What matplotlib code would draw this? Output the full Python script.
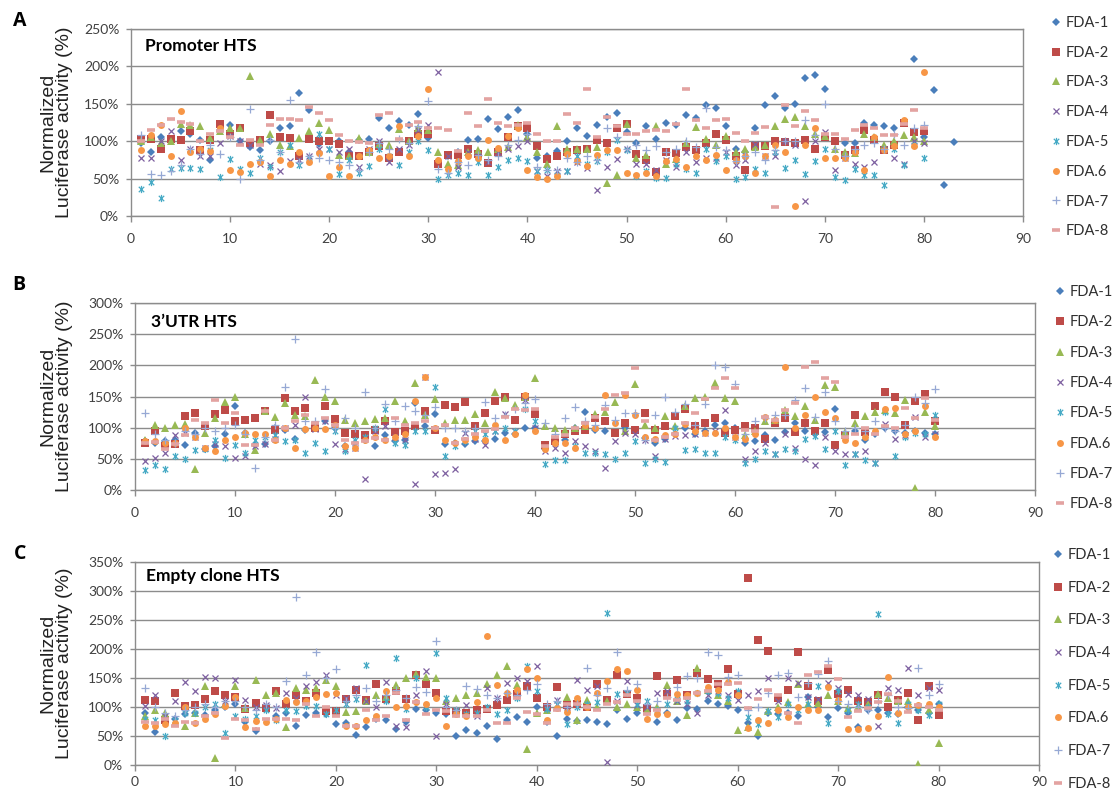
import matplotlib
matplotlib.use("Agg")
import matplotlib.pyplot as plt
from matplotlib.path import Path
from matplotlib.ticker import FuncFormatter, MultipleLocator

# ---------------- data (values in %) ----------------
series_names = ["FDA-1", "FDA-2", "FDA-3", "FDA-4", "FDA-5", "FDA.6", "FDA-7", "FDA-8"]

# Panel A: Promoter HTS
a_fda1 = [97,85,105,103,113,110,101,75,115,121,100,92,88,100,118,120,165,142,96,100,100,86,101,103,131,118,127,121,137,104,
          73,80,85,101,103,130,116,132,142,110,78,80,87,100,117,107,122,133,138,112,98,120,103,124,122,135,131,148,145,120,
          90,85,118,148,160,145,150,185,188,170,100,98,97,124,121,120,117,125,210,105,168,42,99]
a_fda2 = [103,103,90,103,102,113,88,101,123,110,118,98,101,135,105,104,80,103,100,100,96,80,80,86,93,77,86,100,110,110,
          70,81,82,90,83,71,85,105,120,118,93,76,80,85,88,89,102,98,118,123,83,75,59,85,84,92,88,97,109,102,
          80,62,94,93,100,99,98,101,90,105,100,81,88,115,102,88,95,124,112,113]
a_fda3 = [100,105,98,100,123,122,120,104,114,118,117,187,102,110,95,94,104,113,125,115,82,80,104,86,96,95,116,100,118,115,
          86,70,68,85,88,85,90,92,121,105,85,70,120,90,90,90,92,44,55,123,78,82,120,70,76,98,119,103,95,107,
          85,90,92,95,120,130,133,120,110,107,90,85,84,110,105,95,100,108,105,100]
a_fda4 = [78,78,100,113,75,90,80,80,98,107,100,95,70,68,60,73,75,80,90,89,85,90,65,89,100,72,90,95,115,122,
          193,80,65,85,80,72,85,90,93,100,60,53,60,60,72,64,35,66,76,90,70,70,62,75,66,85,72,78,77,86,
          68,75,96,80,80,100,95,20,100,112,62,77,69,65,72,90,77,70,100,97]
a_fda5 = [36,45,24,63,64,64,63,88,52,76,63,57,78,65,86,95,68,78,110,90,56,75,58,67,90,80,68,85,100,88,
          49,55,58,55,72,55,65,75,78,73,60,62,55,60,80,70,74,85,102,88,53,60,51,51,70,63,57,90,73,80,
          50,52,63,58,86,64,75,56,74,90,52,48,63,55,55,42,90,68,95,78]
a_fda6 = [88,108,122,80,140,85,90,87,118,62,59,70,72,53,75,69,86,72,84,53,65,53,80,88,78,80,120,80,107,170,
          75,63,73,80,78,101,91,107,118,62,52,50,53,83,73,67,82,88,88,58,55,57,53,73,76,65,80,75,82,62,
          75,80,57,80,95,85,14,95,118,78,78,78,85,62,105,88,94,128,94,193]
a_fda7 = [108,56,55,60,68,90,83,95,83,105,49,143,75,102,86,155,72,80,77,75,72,68,62,85,98,90,103,98,120,154,
          63,58,72,68,82,75,80,95,102,110,65,62,62,78,72,80,75,118,105,90,95,88,93,85,90,100,92,145,92,88,
          73,80,85,75,88,100,100,128,108,150,90,80,90,95,98,90,110,95,118,122]
a_fda8 = [100,115,122,130,126,123,100,110,113,106,95,102,95,121,130,130,128,146,138,128,108,100,99,98,135,138,103,122,126,118,
          118,115,87,138,120,157,125,120,122,125,110,100,100,136,125,170,105,132,120,110,110,113,115,113,123,170,128,117,128,130,
          111,100,111,119,12,148,120,140,128,110,110,103,115,122,117,108,108,123,142,117]

# Panel B: 3'UTR HTS
b_fda1 = [78,75,78,80,72,92,65,70,90,135,92,72,74,100,97,82,96,100,110,100,70,75,80,70,88,78,80,140,103,122,
          74,75,73,78,78,82,92,90,100,100,65,75,80,100,125,96,95,92,100,95,83,75,82,90,100,90,95,105,108,100,
          75,78,88,80,93,108,95,90,93,130,85,95,80,90,100,95,92,95,92,90]
b_fda2 = [75,95,70,73,118,124,103,122,128,110,112,116,126,96,148,127,132,100,134,114,92,90,89,97,110,93,95,103,127,97,
          137,133,141,102,124,142,149,112,150,122,72,78,90,95,97,115,110,92,107,96,123,97,102,118,130,102,107,115,92,97,
          103,100,82,108,116,93,107,94,108,72,88,120,93,135,157,150,104,142,154,110]
b_fda3 = [80,105,99,105,106,33,92,116,141,149,90,64,126,117,140,120,118,176,149,142,112,107,110,114,115,142,110,171,120,146,
          107,112,112,122,108,157,148,137,150,179,102,100,97,100,102,122,125,141,95,170,104,100,118,102,134,148,150,172,148,142,
          88,95,110,113,128,118,135,113,169,165,93,107,118,125,128,123,145,3,125,103]
b_fda4 = [47,52,60,89,92,85,68,73,70,52,55,70,74,82,100,105,150,98,110,74,65,68,17,95,102,85,80,9,182,25,
          27,33,92,82,72,95,122,95,144,100,62,67,60,78,70,62,35,78,92,90,80,55,82,87,88,90,92,95,128,85,
          50,63,75,58,90,68,50,40,85,62,58,58,62,43,106,82,88,117,85,90]
b_fda5 = [32,40,33,54,50,64,65,80,52,72,60,80,85,88,78,80,60,76,63,95,62,80,85,100,130,76,72,95,95,165,
          54,70,78,95,90,95,100,95,130,110,42,48,48,70,60,60,58,50,60,78,44,50,45,100,64,66,60,60,85,80,
          43,50,62,58,66,62,82,87,65,95,40,58,48,43,125,55,85,92,90,120]
b_fda6 = [78,78,75,75,100,85,67,62,80,85,92,90,90,80,100,67,98,100,98,105,70,68,80,85,80,85,90,143,181,100,
          80,75,80,85,80,104,80,90,152,95,65,75,75,68,105,100,152,108,152,121,85,82,88,90,106,95,91,92,100,85,
          82,90,117,112,197,100,120,149,125,116,80,75,85,95,130,131,90,95,135,85]
b_fda7 = [124,90,80,75,95,90,100,95,100,105,90,35,85,105,165,242,110,110,162,100,115,100,157,100,138,110,135,127,120,133,
          100,100,95,100,141,116,120,130,140,146,108,90,115,133,110,105,137,112,124,123,80,120,150,125,138,105,138,200,197,170,
          90,110,115,120,120,145,163,117,158,110,95,100,95,110,100,95,105,150,140,162]
b_fda8 = [75,77,65,73,88,112,108,144,108,124,72,72,126,80,100,110,120,107,115,105,80,75,78,83,80,115,105,108,110,100,
          105,76,82,90,95,98,117,130,128,130,70,85,88,100,107,117,130,152,155,195,110,80,85,90,108,123,146,163,180,163,
          96,95,117,112,128,140,198,205,180,173,85,90,100,90,103,100,132,115,148,112]

# Panel C: Empty clone HTS
c_fda1 = [90,57,75,80,88,90,87,95,100,105,75,58,98,85,90,68,87,90,88,70,73,52,65,80,78,62,75,97,95,90,
          88,50,60,56,67,45,78,82,75,100,75,50,80,76,77,75,70,95,80,90,92,75,90,77,98,97,110,105,102,95,
          72,50,90,88,90,85,118,100,82,98,90,65,95,95,90,88,100,95,90,105]
c_fda2 = [112,111,78,124,102,104,113,128,121,118,96,107,98,128,105,120,110,125,93,93,113,130,112,140,114,128,113,155,140,124,
          93,91,90,95,97,103,112,122,136,115,100,135,103,106,100,140,112,155,123,115,98,154,123,147,121,158,148,140,165,122,
          323,216,197,116,130,195,137,110,163,123,130,110,108,120,100,112,124,77,137,86]
c_fda3 = [85,95,90,75,67,90,137,12,105,137,98,147,121,125,66,132,130,133,146,137,91,93,110,120,117,138,150,157,152,150,
          110,115,120,125,140,155,170,138,28,90,95,100,118,78,112,100,110,100,105,100,95,100,138,110,87,167,130,120,110,60,
          65,57,93,100,109,140,105,107,120,110,98,100,105,122,115,110,110,2,95,38]
c_fda4 = [101,121,85,110,143,128,152,150,110,147,112,100,104,98,124,115,136,143,155,120,115,133,110,100,143,67,65,120,162,50,
          105,92,104,85,133,115,142,150,145,171,98,112,100,146,129,137,6,110,145,103,100,125,127,110,105,90,120,128,120,112,
          120,128,150,110,150,142,118,113,142,132,123,120,113,68,133,130,167,120,133,130]
c_fda5 = [80,78,50,78,90,90,100,105,56,85,80,85,95,78,95,93,102,102,88,95,105,113,172,83,110,185,97,150,100,193,
          116,95,88,90,100,88,95,115,170,128,97,105,70,100,105,108,262,122,125,105,110,95,105,113,110,125,128,125,115,128,
          82,70,93,82,105,95,105,137,72,128,95,105,100,260,88,72,105,95,86,105]
c_fda6 = [68,68,70,73,100,73,80,88,102,118,65,76,74,80,112,108,110,117,123,124,68,68,78,85,127,100,102,108,105,116,
          68,88,85,108,222,138,124,130,165,150,78,98,92,115,100,125,145,165,162,130,80,88,88,122,120,125,135,130,143,120,
          63,78,73,95,82,100,95,95,134,112,62,62,63,85,152,90,100,103,105,100]
c_fda7 = [133,100,90,85,95,100,105,100,110,110,100,95,105,100,145,290,155,195,150,165,110,120,132,110,120,130,115,135,126,213,
          100,95,137,131,120,115,125,120,130,140,105,110,100,105,168,120,132,195,130,140,105,110,118,135,153,150,195,190,152,155,
          95,100,125,155,158,118,142,157,180,110,105,100,95,110,120,100,98,168,120,140]
c_fda8 = [75,73,80,67,75,72,85,90,47,80,78,62,80,80,80,78,105,85,100,85,68,68,95,78,85,125,78,108,88,95,
          93,85,85,85,95,72,72,115,92,88,72,95,105,105,100,95,105,108,120,110,88,95,115,112,115,125,128,140,140,142,
          98,113,130,120,90,72,155,160,170,148,83,93,98,108,123,110,92,103,100,94]

panel_letters = ["A", "B", "C"]
panel_titles = ["Promoter HTS", "3\u2019UTR HTS", "Empty clone HTS"]
panel_ymax = [250, 300, 350]
x_ticks = list(range(0, 91, 10))

# ---------------- style ----------------
colors = ["#4A7EBB", "#BE4B48", "#98B954", "#7D60A0", "#46AAC5", "#F79646", "#96A8D4", "#E3A3A1"]
star = Path([(0, -1), (0, 1), (-0.75, -0.75), (0.75, 0.75), (-0.75, 0.75), (0.75, -0.75)],
            [Path.MOVETO, Path.LINETO, Path.MOVETO, Path.LINETO, Path.MOVETO, Path.LINETO])
marker_styles = [
    dict(marker="D", ms=3.6, mew=0),
    dict(marker="s", ms=5.2, mew=0),
    dict(marker="^", ms=5.4, mew=0),
    dict(marker="x", ms=4.6, mew=0.9),
    dict(marker=star, ms=5.2, mew=0.9),
    dict(marker="o", ms=5.0, mew=0),
    dict(marker="+", ms=5.4, mew=0.9),
    dict(marker="_", ms=6.2, mew=2.6),
]

grid_col = "#8C8C8C"
tick_col = "#404040"
FONT = ["Lato", "DejaVu Sans"]

W, H = 1114, 790
fig = plt.figure(figsize=(W / 100, H / 100), dpi=100)

def px_rect(l, t, r, b):
    return [l / W, 1 - b / H, (r - l) / W, (b - t) / H]

rects = [px_rect(131, 29, 1023, 216), px_rect(135, 303, 1035, 490), px_rect(135, 562, 1039, 765)]
panel_data = [
    [a_fda1, a_fda2, a_fda3, a_fda4, a_fda5, a_fda6, a_fda7, a_fda8],
    [b_fda1, b_fda2, b_fda3, b_fda4, b_fda5, b_fda6, b_fda7, b_fda8],
    [c_fda1, c_fda2, c_fda3, c_fda4, c_fda5, c_fda6, c_fda7, c_fda8],
]
letter_pos = [(20, 21), (19, 285), (20, 554)]
title_pos = [(145, 46), (151, 322), (146, 576)]
legend_anchor = [(1052, 16), (1056, 285), (1054, 548)]
legend_spacing = [1.08, 1.12, 1.28]
xpad = [8, 8, 4]
ylabel_x = 56

for p in range(3):
    ax = fig.add_axes(rects[p])
    for i, vals in enumerate(panel_data[p]):
        xs = list(range(1, len(vals) + 1))
        st = marker_styles[i]
        ax.plot(xs, vals, linestyle="none", marker=st["marker"], markersize=st["ms"],
                markeredgewidth=st["mew"], color=colors[i], markerfacecolor=colors[i],
                markeredgecolor=colors[i], label=series_names[i], zorder=3 + i * 0.01)
    ax.set_xlim(0, 90)
    ax.set_ylim(0, panel_ymax[p])
    ax.set_xticks(x_ticks)
    ax.yaxis.set_major_locator(MultipleLocator(50))
    ax.yaxis.set_major_formatter(FuncFormatter(lambda v, pos: f"{int(round(v))}%"))
    ax.grid(axis="y", color=grid_col, linewidth=1.0, zorder=1)
    ax.set_axisbelow(True)
    for s in ax.spines.values():
        s.set_color(grid_col)
        s.set_linewidth(1.0)
    ax.tick_params(axis="y", direction="out", length=3.5, width=1.0, color=grid_col,
                   labelcolor=tick_col, labelsize=10, pad=5)
    ax.tick_params(axis="x", direction="out", length=4, width=1.0, color=grid_col,
                   labelcolor=tick_col, labelsize=10, pad=xpad[p])
    for lab in ax.get_xticklabels() + ax.get_yticklabels():
        lab.set_fontfamily(FONT)
    # panel letter & title
    lx, ly = letter_pos[p]
    fig.text(lx / W, 1 - ly / H, panel_letters[p], fontsize=14, fontweight="bold",
             family=["Open Sans", "DejaVu Sans"], ha="center", va="center", color="black")
    tx, ty = title_pos[p]
    fig.text(tx / W, 1 - ty / H, panel_titles[p], fontsize=12.5, fontweight="bold",
             family=FONT, ha="left", va="center", color="black")
    # y label
    r = rects[p]
    fig.text(ylabel_x / W, r[1] + r[3] / 2, "Normalized\nLuciferase activity (%)",
             rotation=90, ha="center", va="center", multialignment="center",
             fontsize=14, family=["Liberation Sans", "DejaVu Sans"], linespacing=0.95,
             color="#222222")
    # legend
    ax_, ay_ = legend_anchor[p]
    leg = ax.legend(loc="upper left", bbox_to_anchor=(ax_ / W, 1 - ay_ / H),
                    bbox_transform=fig.transFigure, frameon=False, borderpad=0,
                    borderaxespad=0, handlelength=0.6, handletextpad=0.35,
                    labelspacing=legend_spacing[p], numpoints=1,
                    prop={"family": FONT, "size": 10.5})
    for t in leg.get_texts():
        t.set_color("#303030")

fig.savefig("out.png", dpi=100)
